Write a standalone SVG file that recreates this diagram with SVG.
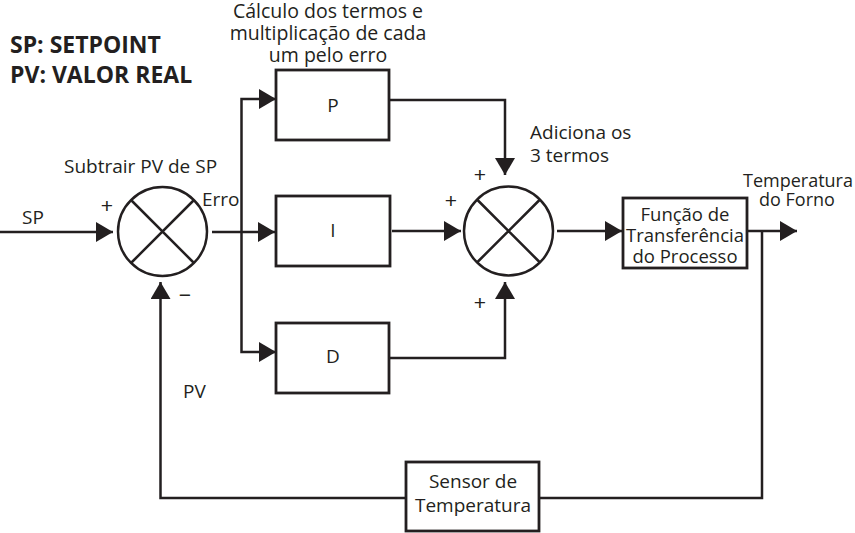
<svg xmlns="http://www.w3.org/2000/svg" width="855" height="533" viewBox="0 0 855 533">
<defs>
<style>
.ln{fill:none;stroke:#231f20;stroke-width:2.5}
.bx{fill:#fff;stroke:#231f20;stroke-width:2.8}
.t{font-family:"Open Sans","Liberation Sans",sans-serif;font-size:19px;fill:#231f20}
.c{text-anchor:middle}
.b{font-weight:bold;font-size:23px}
.sg{font-family:"Liberation Sans",sans-serif;font-size:21px;fill:#231f20;text-anchor:middle}
</style>
<marker id="ar" viewBox="0 0 17 20" refX="17" refY="10" markerWidth="17" markerHeight="20" markerUnits="userSpaceOnUse" orient="auto">
<path d="M0,0 L17,10 L0,20 Z" fill="#231f20"/>
</marker>
</defs>
<rect width="855" height="533" fill="#fff"/>

<g id="legend">
<text class="t b" x="10" y="53">SP: SETPOINT</text>
<text class="t b" x="10" y="83">PV: VALOR REAL</text>
</g>

<g id="connectors">
<path class="ln" d="M0,232 H113" marker-end="url(#ar)"/>
<path class="ln" d="M212,232 H275" marker-end="url(#ar)"/>
<path class="ln" d="M241.5,232 V99 H276" marker-end="url(#ar)"/>
<path class="ln" d="M241.5,232 V352 H276" marker-end="url(#ar)"/>
<path class="ln" d="M390,100 H505 V175" marker-end="url(#ar)"/>
<path class="ln" d="M392,231 H461" marker-end="url(#ar)"/>
<path class="ln" d="M390,358 H505 V282" marker-end="url(#ar)"/>
<path class="ln" d="M557,231 H622" marker-end="url(#ar)"/>
<path class="ln" d="M748,231 H797" marker-end="url(#ar)"/>
<path class="ln" d="M762,231 V498 H540"/>
<path class="ln" d="M406,498 H160.5 V282" marker-end="url(#ar)"/>
</g>

<g id="sum1">
<circle class="ln" cx="162.5" cy="231.5" r="44.5"/>
<path class="ln" d="M131,200 L194,263 M194,200 L131,263"/>
<text class="t" x="64" y="173">Subtrair PV de SP</text>
<text class="t" x="202" y="206">Erro</text>
<text class="sg" x="107" y="213">+</text>
<text class="sg" x="185" y="302">−</text>
</g>

<g id="sum2">
<circle class="ln" cx="508.5" cy="231" r="44.5"/>
<path class="ln" d="M477,199.5 L540,262.5 M540,199.5 L477,262.5"/>
<text class="sg" x="480" y="182">+</text>
<text class="sg" x="451" y="208">+</text>
<text class="sg" x="480" y="310">+</text>
<text class="t" x="530" y="139">Adiciona os</text>
<text class="t" x="530" y="162">3 termos</text>
</g>

<g id="P">
<rect class="bx" x="276" y="70" width="113" height="70"/>
<text class="t c" x="333" y="112">P</text>
<g style="font-size:19.5px">
<text class="t c" x="328" y="18" style="font-size:19.5px">Cálculo dos termos e</text>
<text class="t c" x="328" y="40" style="font-size:19.5px">multiplicação de cada</text>
<text class="t c" x="328" y="62" style="font-size:19.5px">um pelo erro</text>
</g>
</g>

<g id="I">
<rect class="bx" x="276" y="196" width="114" height="70"/>
<text class="t c" x="333" y="237">I</text>
</g>

<g id="D">
<rect class="bx" x="276" y="323" width="113" height="70"/>
<text class="t c" x="333" y="363">D</text>
</g>

<g id="process">
<rect class="bx" x="623" y="198" width="124" height="70" stroke-width="3"/>
<text class="t c" x="685" y="221" style="font-size:18.5px">Função de</text>
<text class="t c" x="685" y="242" style="font-size:18.5px">Transferência</text>
<text class="t c" x="685" y="263" style="font-size:18.5px">do Processo</text>
</g>

<g id="output">
<text class="t c" x="798" y="187" style="font-size:18px">Temperatura</text>
<text class="t c" x="797" y="206" style="font-size:18px">do Forno</text>
</g>

<g id="sensor">
<rect class="bx" x="406" y="462" width="133" height="69"/>
<text class="t c" x="473" y="488">Sensor de</text>
<text class="t c" x="473" y="512">Temperatura</text>
</g>

<g id="labels">
<text class="t" x="22" y="224">SP</text>
<text class="t" x="183" y="398">PV</text>
</g>
</svg>
